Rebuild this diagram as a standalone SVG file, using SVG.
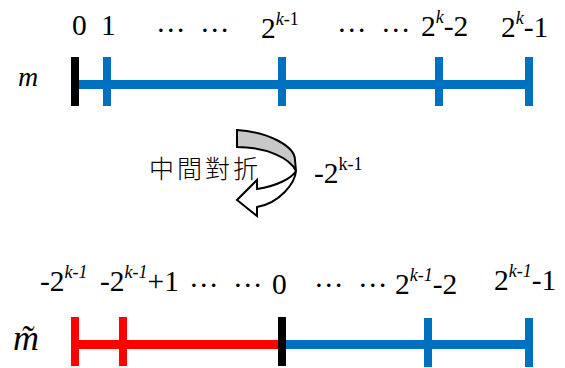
<svg xmlns="http://www.w3.org/2000/svg" width="565" height="368" viewBox="0 0 565 368">
<style>
.t{font-family:"Liberation Serif","Times New Roman",serif;font-size:29.5px;fill:#000}
.s{font-size:18px}
.i{font-style:italic}
.blue{fill:#0070c0}
.red{fill:#f00}
.blk{fill:#000}
</style>
<rect width="565" height="368" fill="#fff"/>
<g id="connectors">
<rect class="blue" x="75" y="80" width="455" height="9"/>
<rect class="red" x="75" y="340" width="207" height="9"/>
<rect class="blue" x="282" y="340" width="248" height="9"/>
</g>
<g id="top-ticks">
<rect class="blk" x="71" y="57" width="8" height="49"/>
<rect class="blue" x="103" y="57" width="8" height="49"/>
<rect class="blue" x="278" y="57" width="8" height="49"/>
<rect class="blue" x="435" y="57" width="8" height="49"/>
<rect class="blue" x="525" y="57" width="8" height="49"/>
</g>
<g id="bottom-ticks">
<rect class="red" x="71" y="317" width="8" height="49"/>
<rect class="red" x="119" y="317" width="8" height="49"/>
<rect class="blk" x="278" y="317" width="8" height="49"/>
<rect class="blue" x="424" y="318" width="8" height="49"/>
<rect class="blue" x="525" y="318" width="8" height="49"/>
</g>
<g id="fold-arrow" stroke="#000" stroke-width="2" stroke-linejoin="miter">
<path d="M296 171C295 183 280 203 257 207L257 216L237 200L257 180L257 189C277 186 292 178 296 171Z" fill="#fff"/>
<path d="M237 130C268 132 295 146 295 160L296 171C290 158 266 147 237 147Z" fill="#c8c8c8"/>
</g>
<g id="top-labels">
<text class="t" x="72" y="35">0</text>
<text class="t" x="101" y="35">1</text>
<text class="t" x="156" y="32">…</text>
<text class="t" x="200" y="32">…</text>
<text class="t" x="261" y="38">2<tspan class="s i" dy="-13">k-</tspan><tspan class="s">1</tspan></text>
<text class="t" x="337" y="32">…</text>
<text class="t" x="381" y="32">…</text>
<text class="t" x="421" y="36">2<tspan class="s i" dy="-13">k</tspan><tspan dy="13">-2</tspan></text>
<text class="t" x="501" y="37">2<tspan class="s i" dy="-13">k</tspan><tspan dy="13">-1</tspan></text>
<text class="t i" x="18" y="86" style="font-size:28px">m</text>
</g>
<g id="fold-label">
<text x="149" y="178" font-family="'Noto Sans CJK TC','Noto Sans CJK SC',sans-serif" font-size="25" font-weight="300" letter-spacing="3">中間對折</text>
<text class="t" x="314" y="183">-2<tspan class="s" dy="-13">k-1</tspan></text>
</g>
<g id="bottom-labels">
<text class="t" x="40" y="291">-2<tspan class="s i" dy="-13">k-1</tspan></text>
<text class="t" x="100" y="291">-2<tspan class="s i" dy="-13">k-1</tspan><tspan dy="13">+1</tspan></text>
<text class="t" x="189" y="287">…</text>
<text class="t" x="233" y="287">…</text>
<text class="t" x="272" y="294">0</text>
<text class="t" x="314" y="287">…</text>
<text class="t" x="358" y="287">…</text>
<text class="t" x="395" y="294">2<tspan class="s i" dy="-13">k-1</tspan><tspan dy="13">-2</tspan></text>
<text class="t" x="494" y="290">2<tspan class="s i" dy="-13">k-1</tspan><tspan dy="13">-1</tspan></text>
<text class="t i" x="13" y="350" style="font-size:36px">m̃</text>
</g>
</svg>
